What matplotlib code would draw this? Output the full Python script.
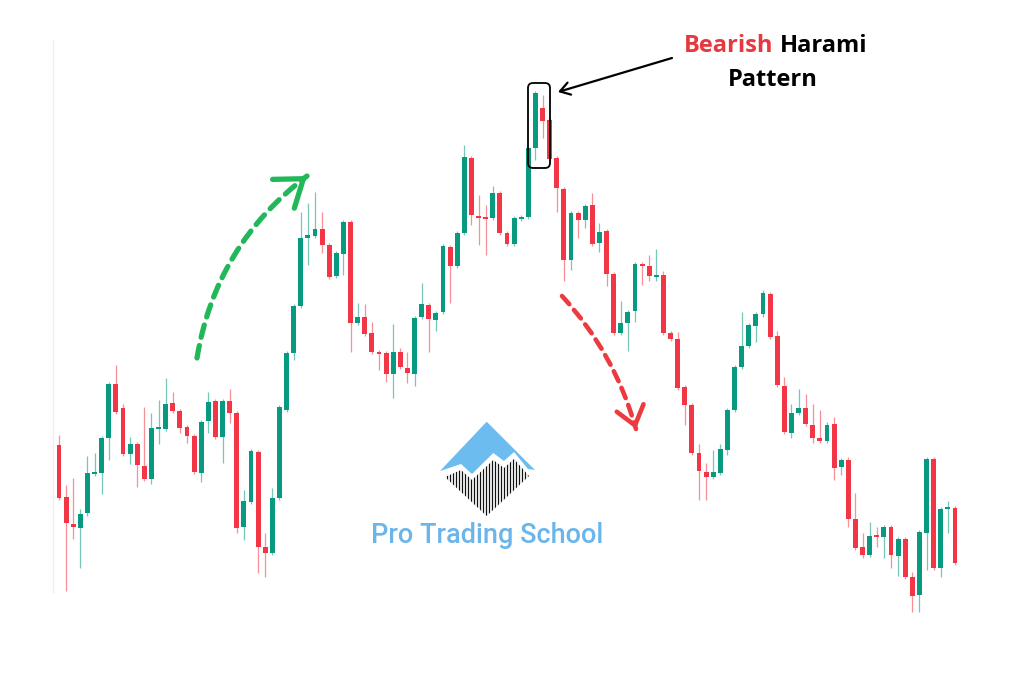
import matplotlib
matplotlib.use('Agg')
import matplotlib.pyplot as plt
from matplotlib.patches import FancyArrowPatch, FancyBboxPatch, Polygon
import numpy as np

# Velas (precio en unidades arbitrarias)
apertura = [191, 238, 186, 159, 155, 170, 209, 210, 245, 299,
            275, 229, 239, 217, 204, 254, 254, 280, 272, 256,
            247, 210, 262, 282, 246, 282, 270, 156, 181, 231,
            136, 130, 185, 273, 330, 377, 445, 447, 454, 438,
            407, 429, 461, 360, 366, 350, 331, 330, 309, 331,
            315, 309, 366, 378, 363, 371, 436, 417, 450, 525,
            467, 466, 465, 490, 450, 439, 464, 466, 535, 575,
            563, 525, 494, 423, 470, 463, 478, 440, 452, 409,
            350, 360, 372, 419, 417, 406, 408, 350, 344, 296,
            278, 230, 211, 206, 210, 233, 273, 316, 337, 357,
            369, 389, 347, 297, 250, 270, 275, 258, 245, 242,
            259, 216, 223, 164, 136, 128, 148, 146, 156, 127,
            144, 106, 88, 150, 224, 115, 174, 175]
maximo = [240, 248, 198, 205, 174, 227, 230, 247, 301, 318,
          279, 246, 241, 276, 270, 283, 305, 291, 274, 258,
          249, 263, 291, 284, 284, 294, 272, 193, 234, 233,
          150, 195, 278, 332, 379, 471, 480, 491, 471, 440,
          432, 463, 463, 380, 379, 361, 333, 332, 359, 335,
          331, 367, 400, 380, 372, 439, 438, 452, 538, 527,
          488, 478, 497, 492, 452, 467, 468, 537, 592, 588,
          565, 527, 496, 472, 472, 479, 490, 460, 454, 411,
          382, 373, 421, 421, 428, 434, 412, 352, 351, 298,
          280, 239, 220, 233, 239, 275, 318, 371, 360, 371,
          393, 391, 352, 306, 279, 294, 289, 279, 273, 261,
          266, 225, 226, 190, 150, 161, 156, 158, 158, 146,
          146, 111, 153, 226, 226, 176, 182, 177]
minimo = [188, 183, 92, 144, 115, 167, 207, 189, 223, 269,
          227, 219, 196, 202, 199, 239, 252, 270, 250, 240,
          209, 201, 250, 244, 220, 260, 150, 143, 179, 110,
          106, 128, 183, 271, 323, 375, 418, 445, 430, 404,
          405, 408, 331, 358, 347, 329, 313, 301, 285, 314,
          300, 297, 364, 331, 352, 369, 380, 415, 448, 458,
          438, 428, 463, 448, 437, 437, 462, 464, 523, 545,
          522, 471, 402, 413, 445, 455, 437, 431, 397, 348,
          348, 332, 361, 398, 402, 402, 348, 342, 293, 258,
          228, 183, 183, 204, 208, 228, 271, 314, 335, 341,
          366, 344, 296, 249, 245, 268, 257, 240, 240, 240,
          203, 208, 156, 133, 125, 126, 136, 125, 115, 107,
          104, 71, 71, 113, 113, 106, 150, 118]
cierre = [237, 185, 160, 156, 169, 210, 211, 245, 299, 271,
          229, 239, 218, 204, 255, 256, 279, 272, 255, 247,
          211, 261, 281, 246, 282, 270, 155, 182, 232, 136,
          130, 185, 276, 330, 377, 445, 448, 454, 438, 406,
          430, 461, 360, 366, 349, 331, 329, 309, 331, 316,
          310, 365, 379, 364, 370, 437, 417, 450, 526, 468,
          465, 464, 490, 450, 439, 465, 466, 535, 590, 562,
          524, 495, 423, 470, 463, 477, 439, 451, 409, 350,
          360, 371, 419, 417, 407, 408, 350, 344, 295, 278,
          230, 212, 206, 211, 234, 273, 316, 337, 358, 369,
          390, 346, 298, 251, 270, 275, 259, 245, 242, 258,
          215, 223, 164, 135, 128, 147, 146, 156, 128, 144,
          106, 87, 151, 224, 115, 174, 176, 120]

VERDE = '#089981'
ROJO = '#f23645'


def dibujar_velas(ax):
    o = np.array(apertura)
    h = np.array(maximo)
    l = np.array(minimo)
    c = np.array(cierre)
    x = np.arange(len(o))
    colores = [VERDE if cc >= oo else ROJO for oo, cc in zip(o, c)]
    ax.vlines(x, l, h, colors=colores, linewidth=0.9, alpha=0.55, zorder=1)
    base = np.minimum(o, c)
    alto = np.maximum(np.abs(c - o), 1.8)
    ax.bar(x, alto, bottom=base, width=0.7, color=colores, linewidth=0, zorder=2)


def flecha_punteada(ax, inicio, fin, rad, color, lw, head_len, head_w):
    # curva punteada sin punta
    curva = FancyArrowPatch(inicio, fin, connectionstyle=f"arc3,rad={rad}",
                            arrowstyle='-', linestyle=(0, (2.4, 1.6)),
                            linewidth=lw, color=color, shrinkA=0, shrinkB=0)
    ax.add_patch(curva)
    # direccion final de la curva (en coordenadas de pantalla)
    a = ax.transData.transform(inicio)
    b = ax.transData.transform(fin)
    mid = (a + b) / 2
    d = b - a
    ctrl = mid + rad * np.array([d[1], -d[0]])
    t = (b - ctrl) / np.linalg.norm(b - ctrl)
    p0 = ax.transData.inverted().transform(b - 6 * t)
    punta = FancyArrowPatch(tuple(p0), fin,
                            arrowstyle=f'->,head_length={head_len},head_width={head_w}',
                            mutation_scale=10, linewidth=lw, color=color,
                            shrinkA=0, shrinkB=0, capstyle='round', joinstyle='round')
    ax.add_patch(punta)


fig = plt.figure(figsize=(10.24, 6.83), dpi=100)
fig.patch.set_facecolor('white')

# eje de las velas: vela i en el pixel 51.9 + 7.111*i
ax = fig.add_axes([53 / 1024, 0, 1 - 53 / 1024, 1])
ax.set_xlim((53 - 51.9) / 7.111, (1024 - 51.9) / 7.111)
ax.set_ylim(0, 683)
ax.axis('off')
dibujar_velas(ax)

# capa de anotaciones en pixeles
ov = fig.add_axes([0, 0, 1, 1], zorder=3)
ov.set_xlim(0, 1024)
ov.set_ylim(683, 0)
ov.axis('off')
ov.patch.set_alpha(0)

ov.plot([53, 53], [40, 592], color='#eeeeee', lw=1)

flecha_punteada(ov, (197, 358), (307, 176), -0.2, '#22b85a', 3.8, 1.8, 1.3)
flecha_punteada(ov, (562, 296), (636, 429), -0.12, '#ec3b3f', 3.3, 1.3, 1.0)

caja = FancyBboxPatch((528, 83), 22, 85, boxstyle='round,pad=0,rounding_size=5',
                      facecolor='none', edgecolor='black', linewidth=1.3)
ov.add_patch(caja)
ov.add_patch(FancyArrowPatch((672, 58), (558, 92),
                             arrowstyle='->,head_length=0.7,head_width=0.45',
                             mutation_scale=10, linewidth=1.6, color='black',
                             shrinkA=0, shrinkB=0))

ov.text(773, 52, 'Bearish', color='#e8383f', fontsize=17, fontweight='bold',
        family='Open Sans', ha='right', va='baseline')
ov.text(780, 52, 'Harami', color='black', fontsize=17, fontweight='bold',
        family='Open Sans', ha='left', va='baseline')
ov.text(773, 86, 'Pattern', color='black', fontsize=17, fontweight='bold',
        family='Open Sans', ha='center', va='baseline')

# logo
AZUL = '#6cbcf0'
azul = [(440, 471), (486.7, 421.7), (535, 470), (528, 469), (514, 452), (504, 461),
        (493.3, 453), (472, 474), (461, 464)]
rayas = [(445, 477), (461, 470), (472, 480), (493.3, 460), (504, 468),
         (514, 459), (529, 476), (486.7, 516)]
ov.add_patch(Polygon(azul, closed=True, facecolor=AZUL, edgecolor='none'))
zona = Polygon(rayas, closed=True, facecolor='none', edgecolor='none')
ov.add_patch(zona)
xs = np.arange(444, 532, 3.0)
lineas = ov.vlines(xs, 450, 520, colors='#111111', linewidth=0.9)
lineas.set_clip_path(zona)

ov.text(487, 543, 'Pro Trading School', color='#6bb5ea', fontsize=19.5,
        family='Roboto', fontweight='medium', ha='center', va='baseline')

fig.savefig('out.png', dpi=100)
